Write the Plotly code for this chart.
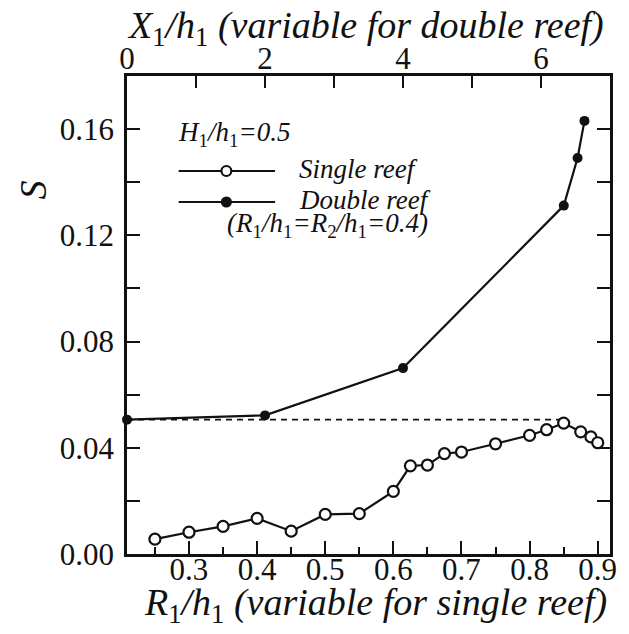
import plotly.graph_objects as go

# Single reef: transmission coefficient S against R1/h1
single_r = [0.25, 0.30, 0.35, 0.40, 0.45, 0.50, 0.55, 0.60, 0.625, 0.65,
            0.675, 0.70, 0.75, 0.80, 0.825, 0.85, 0.875, 0.89, 0.90]
single_s = [0.0056, 0.0082, 0.0104, 0.0134, 0.0086, 0.0149, 0.0152, 0.0236,
            0.0332, 0.0335, 0.0378, 0.0384, 0.0415, 0.0447, 0.0468, 0.0493,
            0.0460, 0.0441, 0.0419]

# Double reef (R1/h1 = R2/h1 = 0.4): S against X1/h1
double_x = [0, 2, 4, 6.33, 6.53, 6.63]
double_s = [0.0506, 0.0522, 0.0700, 0.1312, 0.1491, 0.1631]

# Axis ticks
r_ticks = [0.3, 0.4, 0.5, 0.6, 0.7, 0.8, 0.9]
r_minor = [0.25, 0.35, 0.45, 0.55, 0.65, 0.75, 0.85]
x_ticks = [0, 1, 2, 3, 4, 5, 6]
x_labels = ["0", "", "2", "", "4", "", "6"]
s_ticks = [0.00, 0.02, 0.04, 0.06, 0.08, 0.10, 0.12, 0.14, 0.16]
s_labels = [f"{v:.2f}" if i % 2 == 0 else "" for i, v in enumerate(s_ticks)]

R_RANGE = [0.209, 0.918]
X_RANGE = [0, 7]
S_RANGE = [0, 0.18]

SERIF = "Liberation Serif"
INK = "#111111"

fig = go.Figure()

# Reference level: double-reef value at X1/h1 = 0 carried to the single-reef peak
peak_idx = max(range(len(single_s)), key=lambda i: single_s[i])
fig.add_trace(go.Scatter(
    x=[R_RANGE[0], single_r[peak_idx]], y=[double_s[0], double_s[0]],
    mode="lines", line=dict(color=INK, width=1.6, dash="6px,5px"),
    xaxis="x", yaxis="y", showlegend=False, hoverinfo="skip"))

fig.add_trace(go.Scatter(
    x=single_r, y=single_s, mode="lines+markers", name="Single reef",
    line=dict(color=INK, width=2.2),
    marker=dict(symbol="circle", size=11, color="white",
                line=dict(color=INK, width=2.2)),
    xaxis="x", yaxis="y", showlegend=False, cliponaxis=False))

fig.add_trace(go.Scatter(
    x=double_x, y=double_s, mode="lines+markers", name="Double reef",
    line=dict(color=INK, width=2.2),
    marker=dict(symbol="circle", size=10, color=INK),
    xaxis="x2", yaxis="y", showlegend=False, cliponaxis=False))

# Plot area geometry in pixels (used for paper-coordinate placement of labels)
W, H = 629, 634
L, R, T, B = 127, 16, 76, 80
PW, PH = W - L - R, H - T - B


def px(xp):
    return (xp - L) / PW


def py(yp):
    return (H - B - yp) / PH


tick_font = dict(family=SERIF, size=31, color=INK)

fig.update_layout(
    width=W, height=H,
    margin=dict(l=L, r=R, t=T, b=B),
    paper_bgcolor="white", plot_bgcolor="white",
    font=dict(family=SERIF, color=INK),
    xaxis=dict(
        range=R_RANGE, tickvals=r_ticks, ticktext=[f"{v:.1f}" for v in r_ticks],
        ticks="inside", ticklen=13, tickwidth=2, tickcolor=INK,
        minor=dict(tickvals=r_minor, ticks="inside", ticklen=7, tickwidth=2,
                   tickcolor=INK),
        showline=True, linewidth=2.5, linecolor=INK, mirror=False,
        showgrid=False, zeroline=False, tickfont=tick_font,
        ticklabelstandoff=-14,
    ),
    xaxis2=dict(
        range=X_RANGE, overlaying="x", side="top", anchor="y",
        tickvals=x_ticks, ticktext=x_labels,
        ticks="inside", ticklen=12, tickwidth=2, tickcolor=INK,
        showline=True, linewidth=2.5, linecolor=INK,
        showgrid=False, zeroline=False, tickfont=tick_font,
        ticklabelstandoff=-8,
    ),
    yaxis=dict(
        range=S_RANGE, tickvals=s_ticks, ticktext=s_labels,
        ticks="inside", ticklen=13, tickwidth=2, tickcolor=INK,
        showline=True, linewidth=2.5, linecolor=INK, mirror="ticks",
        showgrid=False, zeroline=False, tickfont=tick_font,
        ticklabelstandoff=4,
    ),
    showlegend=False,
)

ann = []
title_font = dict(family=SERIF, size=38, color=INK)
ann.append(dict(
    text="<i>X</i><sub>1</sub><i>/h</i><sub>1</sub><i> (variable for double reef)</i>",
    x=px(367), y=py(28), xref="paper", yref="paper",
    xanchor="center", yanchor="middle", showarrow=False, font=title_font))
ann.append(dict(
    text="<i>R</i><sub>1</sub><i>/h</i><sub>1</sub><i> (variable for single reef)</i>",
    x=px(377), y=py(605), xref="paper", yref="paper",
    xanchor="center", yanchor="middle", showarrow=False, font=title_font))
ann.append(dict(
    text="<i>S</i>", x=px(32), y=py(190), xref="paper", yref="paper",
    textangle=-90, xanchor="center", yanchor="middle", showarrow=False,
    font=dict(family=SERIF, size=38, color=INK)))

leg_font = dict(family=SERIF, size=27, color=INK)
ann.append(dict(
    text="<i>H</i><sub>1</sub><i>/h</i><sub>1</sub><i>=0.5</i>",
    x=px(176), y=py(134), xref="paper", yref="paper",
    xanchor="left", yanchor="middle", showarrow=False, font=leg_font))
ann.append(dict(
    text="<i>Single reef</i>", x=px(298), y=py(169), xref="paper", yref="paper",
    xanchor="left", yanchor="middle", showarrow=False, font=leg_font))
ann.append(dict(
    text="<i>Double reef</i>", x=px(298), y=py(200), xref="paper", yref="paper",
    xanchor="left", yanchor="middle", showarrow=False, font=leg_font))
ann.append(dict(
    text="<i>(R</i><sub>1</sub><i>/h</i><sub>1</sub><i>=R</i><sub>2</sub><i>/h</i><sub>1</sub><i>=0.4)</i>",
    x=px(226), y=py(225), xref="paper", yref="paper",
    xanchor="left", yanchor="middle", showarrow=False, font=leg_font))
fig.update_layout(annotations=ann)

# Legend keys: short line with the series marker in the middle
shapes = []
for ky, filled in ((171, False), (202, True)):
    shapes.append(dict(type="line", xref="paper", yref="paper",
                       x0=px(179), x1=px(276), y0=py(ky), y1=py(ky),
                       line=dict(color=INK, width=2.2)))
    r = 5 if not filled else 4.5
    shapes.append(dict(type="circle", xref="paper", yref="paper",
                       x0=px(227 - r), x1=px(227 + r), y0=py(ky + r), y1=py(ky - r),
                       fillcolor=INK if filled else "white",
                       line=dict(color=INK, width=2.2)))
fig.update_layout(shapes=shapes)

fig.write_html("out.html")
